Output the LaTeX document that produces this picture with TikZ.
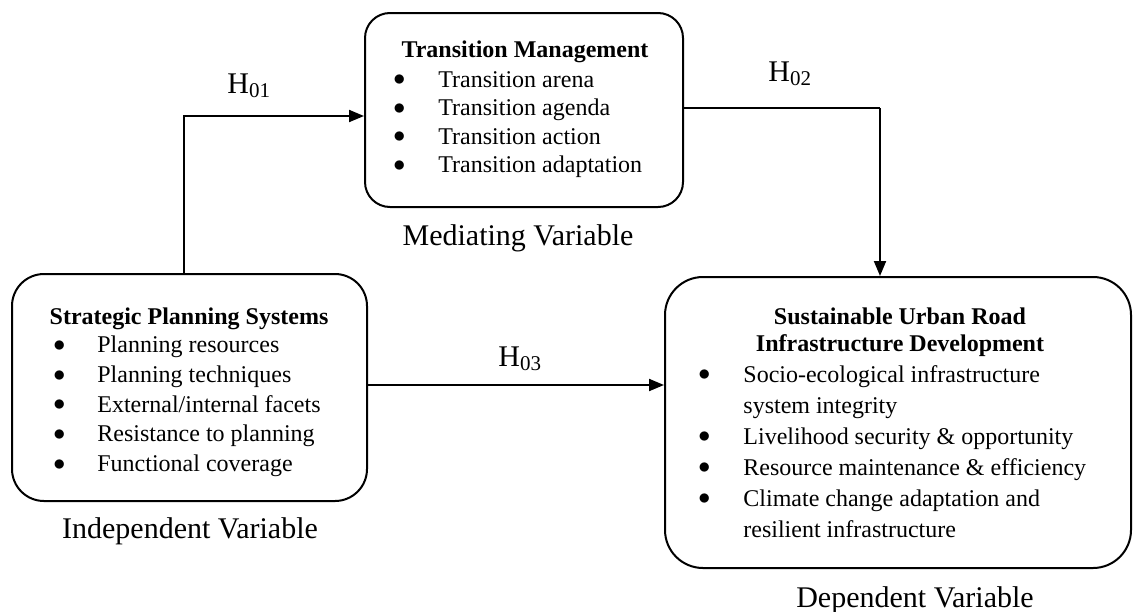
\documentclass[tikz,border=0pt]{standalone}
\usepackage{fontspec}
\setmainfont{Liberation Serif}
\usetikzlibrary{arrows.meta}

\tikzset{
  varbox/.style={draw, line width=1pt, inner sep=0pt},
  boxtitle/.style={anchor=base, inner sep=0pt, font=\bfseries\fontsize{12}{13.5}\selectfont},
  items/.style={anchor=base west, inner sep=0pt},
  varlbl/.style={anchor=base, inner sep=0pt, font=\fontsize{15}{18}\selectfont},
  hlbl/.style={anchor=base west, inner sep=0pt, font=\fontsize{15}{18}\selectfont},
  hyp/.style={line width=1pt, -{Triangle[length=7.5pt,width=6pt]}},
}
\newcommand{\bul}{\raisebox{0.6pt}{$\bullet$}}

\begin{document}
\begin{tikzpicture}[x=0.5pt,y=-0.5pt]
\useasboundingbox (0,0) rectangle (1133,611);

% the three variable boxes
\node[varbox, rounded corners=16pt, minimum width=177.5pt, minimum height=113.5pt] (sps) at (189.5,387.5) {};
\node[varbox, rounded corners=12.5pt, minimum width=159pt, minimum height=97pt] (tm) at (524,110) {};
\node[varbox, rounded corners=19pt, minimum width=233pt, minimum height=145.5pt] (surid) at (898,422.5) {};

% independent variable
\node[boxtitle] (spstitle) at (189,324) {Strategic Planning Systems};
\node[items, font=\fontsize{12}{14.9}\selectfont] (spsitems) at (53,352.5) {%
  \begin{tabular}[t]{@{}p{22pt}@{}l@{}}
  \bul & Planning resources\\
  \bul & Planning techniques\\
  \bul & External/internal facets\\
  \bul & Resistance to planning\\
  \bul & Functional coverage
  \end{tabular}};

% mediating variable
\node[boxtitle] (tmtitle) at (525,57) {Transition Management};
\node[items, font=\fontsize{12}{14.25}\selectfont] (tmitems) at (393,87) {%
  \begin{tabular}[t]{@{}p{22.5pt}@{}l@{}}
  \bul & Transition arena\\
  \bul & Transition agenda\\
  \bul & Transition action\\
  \bul & Transition adaptation
  \end{tabular}};

% dependent variable
\node[boxtitle] (suridtitle) at (900,324.5) {%
  \begin{tabular}[t]{@{}c@{}}
  Sustainable Urban Road\\
  Infrastructure Development
  \end{tabular}};
\node[items, font=\fontsize{12}{15.5}\selectfont] (suriditems) at (698,382) {%
  \begin{tabular}[t]{@{}p{22.5pt}@{}l@{}}
  \bul & Socio-ecological infrastructure\\
       & system integrity\\
  \bul & Livelihood security \& opportunity\\
  \bul & Resource maintenance \& efficiency\\
  \bul & Climate change adaptation and\\
       & resilient infrastructure
  \end{tabular}};

% labels under the boxes
\node[varlbl] (indep) at (190,538) {Independent Variable};
\node[varlbl] (medi) at (518,245) {Mediating Variable};
\node[varlbl] (dep) at (915,607) {Dependent Variable};

% hypotheses
\coordinate (k1) at (184,116);
\coordinate (k2) at (880,108);
\coordinate (k3) at (0,385);
\draw[hyp] (sps.north -| k1) -- (k1) -- (k1 -| tm.west);
\draw[line width=0.6pt] (tm.east |- k2) -- (k2);
\draw[hyp] (k2) -- (k2 |- surid.north);
\draw[hyp] (sps.east |- k3) -- (surid.west |- k3);

\node[hlbl] (h01) at (227,93) {H\textsubscript{01}};
\node[hlbl] (h02) at (768,81) {H\textsubscript{02}};
\node[hlbl] (h03) at (498,366) {H\textsubscript{03}};
\end{tikzpicture}
\end{document}
